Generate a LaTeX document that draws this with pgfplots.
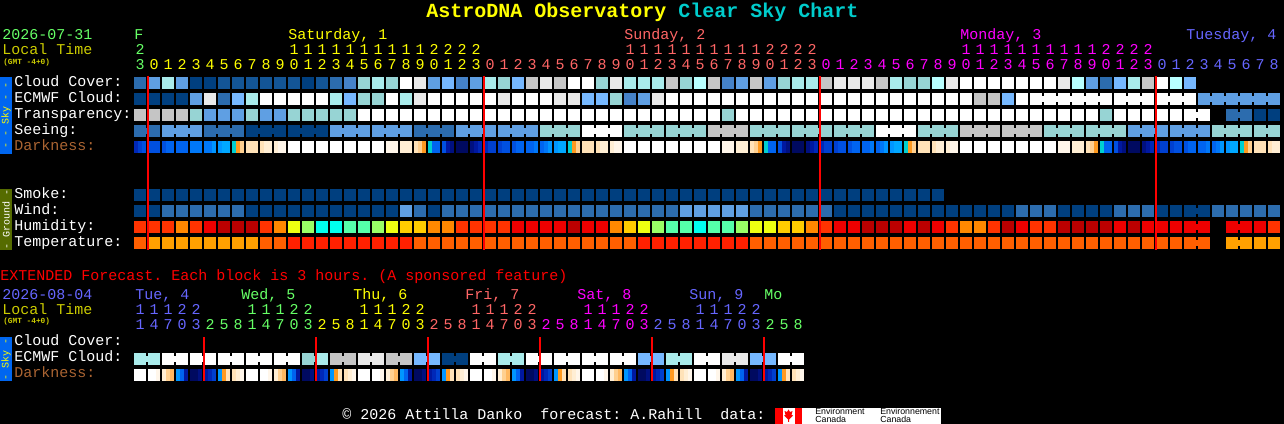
\documentclass[border=0pt]{standalone}
\usepackage{pgfplots}
\usepackage{pgfplotstable}
\pgfplotsset{compat=1.18}
\usepackage{fontspec}
\setmainfont{Liberation Mono}
\newfontfamily\logofont{Liberation Sans}
\pgfdeclareplotmark{cell}{\pgfpathrectangle{\pgfqpoint{-4.5pt}{-4.5pt}}{\pgfqpoint{9pt}{9pt}}\pgfusepathqfill}
\pgfdeclareplotmark{sub}{\pgfpathrectangle{\pgfqpoint{-1.55pt}{-4.5pt}}{\pgfqpoint{3.1pt}{9pt}}\pgfusepathqfill}
\pgfdeclareplotmark{bridge}{\pgfpathrectangle{\pgfqpoint{-0.85pt}{-1.9pt}}{\pgfqpoint{1.7pt}{3.8pt}}\pgfusepathqfill}
\definecolor{cgreen}{RGB}{102,255,102}
\definecolor{cyellow}{RGB}{255,255,0}
\definecolor{csalmon}{RGB}{255,102,102}
\definecolor{cmagenta}{RGB}{255,0,255}
\definecolor{cblue}{RGB}{102,102,255}
\definecolor{clocal}{RGB}{204,204,0}
\definecolor{cdark}{RGB}{170,100,50}
\definecolor{cteal}{RGB}{0,204,204}
\definecolor{barblue}{RGB}{0,102,240}
\definecolor{barolive}{RGB}{85,107,0}
\pgfplotstableread{
col cl ec tr se bs be d1 d2 d3 sm wi hu te
0 3 1 10 3 3 0 28 29 30 1 1 13 23
1 5 1 10 3 0 0 30 30 30 1 1 13 22
2 8 1 10 5 5 0 30 31 31 1 3 13 22
3 5 1 10 5 5 0 31 31 31 1 3 14 22
4 1 5 7 5 0 0 32 32 32 1 3 13 22
5 1 11 5 3 3 0 32 32 33 1 3 15 22
6 2 3 5 3 3 0 33 34 34 1 3 16 22
7 2 6 5 3 0 0 35 36 38 1 3 16 22
8 2 8 7 1 1 0 39 39 39 1 1 16 22
9 2 12 5 1 1 0 39 40 40 1 1 13 23
10 2 12 5 1 0 0 40 41 41 1 1 14 23
11 2 12 7 1 1 0 12 12 12 1 1 18 24
12 1 12 7 1 1 0 12 12 12 1 1 19 24
13 2 12 7 1 0 0 12 12 12 1 1 21 24
14 3 8 7 5 5 0 12 12 12 1 1 21 24
15 4 6 7 5 5 0 12 12 12 1 1 20 24
16 7 7 12 5 0 0 12 12 12 1 1 20 24
17 8 7 12 5 5 0 12 12 12 1 1 19 24
18 7 12 12 5 5 0 41 41 41 1 1 18 24
19 12 8 12 5 0 0 40 40 40 1 5 17 24
20 11 11 12 3 3 0 39 38 36 1 3 17 23
21 5 12 12 3 3 0 35 31 31 1 1 14 23
22 6 12 12 3 0 0 30 27 26 1 3 14 23
23 4 12 12 5 5 0 25 25 25 1 3 13 23
24 5 12 12 5 5 0 26 27 28 1 3 13 23
25 8 12 12 5 0 0 28 29 29 1 3 13 23
26 7 11 12 5 5 0 29 30 30 1 3 13 23
27 6 12 12 5 5 0 30 31 31 1 3 15 23
28 10 12 12 5 0 0 31 31 32 1 3 15 23
29 11 12 12 7 7 0 31 32 33 1 3 15 23
30 10 11 12 7 7 0 33 34 34 1 3 15 23
31 12 11 12 7 0 0 35 36 38 1 3 16 23
32 12 6 12 12 12 0 39 39 39 1 3 15 23
33 7 6 12 12 12 0 39 40 40 1 3 15 23
34 11 7 12 12 0 0 40 41 41 1 3 14 23
35 8 4 12 7 7 0 12 12 12 1 3 17 23
36 8 5 12 7 7 0 12 12 12 1 3 18 24
37 8 11 12 7 0 0 12 12 12 1 3 19 24
38 10 12 12 7 7 0 12 12 12 1 3 20 24
39 7 12 12 7 7 0 12 12 12 1 5 20 24
40 9 12 12 7 0 0 12 12 12 1 5 21 24
41 10 12 12 10 10 0 12 12 12 1 5 20 24
42 4 12 7 10 10 0 41 41 41 1 5 20 24
43 5 12 12 10 0 0 40 40 40 1 5 19 24
44 10 12 12 7 7 0 39 38 36 1 3 18 23
45 5 12 12 7 7 0 35 31 31 1 3 18 23
46 7 12 12 7 0 0 30 27 26 1 3 17 23
47 8 12 12 7 7 0 25 25 25 1 3 17 23
48 8 12 12 7 7 0 26 27 28 1 3 14 23
49 10 12 12 7 0 0 28 29 29 1 3 13 23
50 11 12 12 7 7 0 29 30 30 1 1 15 23
51 11 12 12 7 7 0 30 31 31 1 1 15 23
52 11 12 12 7 0 0 31 31 32 1 1 16 23
53 10 12 12 12 12 0 31 32 33 1 1 16 23
54 8 12 12 12 12 0 33 34 34 1 1 16 23
55 7 12 12 12 0 0 35 36 38 1 1 15 23
56 7 12 12 7 7 0 39 39 39 1 1 16 23
57 9 12 12 7 7 0 39 40 40 1 1 15 23
58 11 12 12 7 0 0 40 41 41 0 1 13 23
59 12 12 12 10 10 0 12 12 12 0 1 14 23
60 12 10 12 10 10 0 12 12 12 0 1 14 23
61 12 10 12 10 0 0 12 12 12 0 1 13 23
62 12 6 12 10 10 0 12 12 12 0 1 16 23
63 12 12 12 10 10 0 12 12 12 0 3 15 23
64 12 12 12 10 0 12 12 12 12 0 3 13 23
65 12 12 12 7 7 12 12 12 12 0 3 13 23
66 11 12 12 7 7 12 41 41 41 0 1 16 23
67 9 12 12 7 0 12 40 40 40 0 1 16 23
68 5 12 12 7 7 12 39 38 36 0 1 16 23
69 3 12 7 7 7 0 35 31 31 0 1 16 23
70 6 12 12 7 0 12 30 27 26 0 3 15 23
71 8 12 12 5 5 12 25 25 25 0 3 16 23
72 10 12 12 5 5 0 26 27 28 0 3 15 23
73 12 12 12 5 0 12 28 29 29 0 1 15 23
74 9 12 12 5 5 12 29 30 30 0 1 15 23
75 6 12 12 5 5 0 30 31 31 0 1 15 23
76 0 5 12 5 0 5 31 31 32 0 1 15 23
77 0 5 0 7 7 5 31 32 33 0 3 0 0
78 0 5 3 7 7 5 33 34 34 0 3 15 22
79 0 5 3 7 0 5 35 36 38 0 3 15 22
80 0 5 1 7 7 5 39 39 39 0 3 15 22
81 0 5 1 7 0 0 39 40 40 0 3 13 22
}\mainrows
\pgfplotstableread{
gap y lev
75 115 12
78 115 3
75 211 1
75 227 15
78 227 15
75 243 23
78 243 22
}\extrabridges
\pgfplotstableread{
col ec b d1 d2 d3
0 8 8 12 12 12
1 8 0 12 12 41
2 12 12 40 38 37
3 12 0 33 31 27
4 12 12 25 25 26
5 12 0 27 28 29
6 12 12 33 36 39
7 12 0 39 40 41
8 12 12 12 12 12
9 12 0 12 12 41
10 12 12 40 38 37
11 12 0 33 31 27
12 7 7 25 25 26
13 8 0 27 28 29
14 10 10 33 36 39
15 10 0 39 40 41
16 11 11 12 12 12
17 11 0 12 12 41
18 10 10 40 38 37
19 10 0 33 31 27
20 6 6 25 25 26
21 6 0 27 28 29
22 1 1 33 36 39
23 1 0 39 40 41
24 12 12 12 12 12
25 12 0 12 12 41
26 8 8 40 38 37
27 8 0 33 31 27
28 12 12 25 25 26
29 12 0 27 28 29
30 12 12 33 36 39
31 12 0 39 40 41
32 12 12 12 12 12
33 12 0 12 12 41
34 12 12 40 38 37
35 12 0 33 31 27
36 6 6 25 25 26
37 6 0 27 28 29
38 8 8 33 36 39
39 8 0 39 40 41
40 12 12 12 12 12
41 12 0 12 12 41
42 11 11 40 38 37
43 11 0 33 31 27
44 6 6 25 25 26
45 6 0 27 28 29
46 12 12 33 36 39
47 12 0 39 40 41
}\extrows
\newcommand\ptxt[5][11.25]{\node[anchor=base west,inner sep=0pt,text=#4,font=\fontsize{#1}{#1}\selectfont] at ({#2},{424-#3}) {#5};}
\newcommand\digits[4]{\foreach \d [count=\i from #1] in {#4} {\node[anchor=base,inner sep=0pt,text=#3,font=\fontsize{11.25}{12}\selectfont] at ({140+14*\i},{424-#2}) {\d};}}
\begin{document}
\frenchspacing
\begin{tikzpicture}[x=0.75pt,y=0.75pt]
\fill[black] (0,0) rectangle (1284,424);
\useasboundingbox (0,0) rectangle (1284,424);
\begin{axis}[
  at={(0,0)},anchor=south west,
  x=0.75pt,y=0.75pt,
  xmin=0,xmax=1284,ymin=0,ymax=424,
  y dir=reverse,
  hide axis,
  clip=false,
  point meta min=0,point meta max=41,
  colormap={skypal}{
    rgb255=(0,0,0) rgb255=(0,63,127) rgb255=(19,85,150) rgb255=(44,108,174)
    rgb255=(69,130,200) rgb255=(95,159,227) rgb255=(118,184,255) rgb255=(151,212,212)
    rgb255=(169,235,235) rgb255=(184,255,255) rgb255=(197,197,197) rgb255=(233,233,233)
    rgb255=(255,255,255) rgb255=(255,51,0) rgb255=(255,136,0) rgb255=(238,0,0)
    rgb255=(187,0,0) rgb255=(255,204,0) rgb255=(238,255,17) rgb255=(153,255,102)
    rgb255=(85,255,170) rgb255=(0,255,238) rgb255=(255,160,0) rgb255=(255,95,0)
    rgb255=(255,32,0) rgb255=(0,10,96) rgb255=(0,16,128) rgb255=(0,24,160)
    rgb255=(0,40,184) rgb255=(0,64,208) rgb255=(0,80,224) rgb255=(0,100,240)
    rgb255=(0,120,248) rgb255=(0,150,255) rgb255=(0,168,255) rgb255=(0,208,208)
    rgb255=(255,154,32) rgb255=(255,184,96) rgb255=(255,208,144) rgb255=(255,226,184)
    rgb255=(255,238,212) rgb255=(255,246,234)
  },
  cells/.style={scatter,only marks,mark=#1,scatter/use mapped color={fill=mapped color,draw=none}},
]
% main grid
\addplot[cells=cell,point meta=\thisrow{cl}] table[x expr=140+14*\thisrow{col},y expr=83] {\mainrows};
\addplot[cells=cell,point meta=\thisrow{ec}] table[x expr=140+14*\thisrow{col},y expr=99] {\mainrows};
\addplot[cells=cell,point meta=\thisrow{tr}] table[x expr=140+14*\thisrow{col},y expr=115] {\mainrows};
\addplot[cells=cell,point meta=\thisrow{se}] table[x expr=140+14*\thisrow{col},y expr=131] {\mainrows};
\addplot[cells=sub,point meta=\thisrow{d1}] table[x expr=136+14*\thisrow{col},y expr=147] {\mainrows};
\addplot[cells=sub,point meta=\thisrow{d2}] table[x expr=140+14*\thisrow{col},y expr=147] {\mainrows};
\addplot[cells=sub,point meta=\thisrow{d3}] table[x expr=144+14*\thisrow{col},y expr=147] {\mainrows};
\addplot[cells=cell,point meta=\thisrow{sm}] table[x expr=140+14*\thisrow{col},y expr=195] {\mainrows};
\addplot[cells=cell,point meta=\thisrow{wi}] table[x expr=140+14*\thisrow{col},y expr=211] {\mainrows};
\addplot[cells=cell,point meta=\thisrow{hu}] table[x expr=140+14*\thisrow{col},y expr=227] {\mainrows};
\addplot[cells=cell,point meta=\thisrow{te}] table[x expr=140+14*\thisrow{col},y expr=243] {\mainrows};
% joins between blocks that share one forecast
\addplot[cells=bridge,point meta=\thisrow{bs}] table[x expr=147+14*\thisrow{col},y expr=131] {\mainrows};
\addplot[cells=bridge,point meta=\thisrow{be}] table[x expr=147+14*\thisrow{col},y expr=99] {\mainrows};
\addplot[cells=bridge,point meta=\thisrow{lev}] table[x expr=147+14*\thisrow{gap},y=y] {\extrabridges};
% extended grid
\addplot[cells=cell,point meta=\thisrow{ec}] table[x expr=140+14*\thisrow{col},y expr=359] {\extrows};
\addplot[cells=bridge,point meta=\thisrow{b}] table[x expr=147+14*\thisrow{col},y expr=359] {\extrows};
\addplot[cells=sub,point meta=\thisrow{d1}] table[x expr=136+14*\thisrow{col},y expr=375] {\extrows};
\addplot[cells=sub,point meta=\thisrow{d2}] table[x expr=140+14*\thisrow{col},y expr=375] {\extrows};
\addplot[cells=sub,point meta=\thisrow{d3}] table[x expr=144+14*\thisrow{col},y expr=375] {\extrows};
\end{axis}
% red midnight lines, in an axis of their own so that they lie on top of the marks
\begin{axis}[
  at={(0,0)},anchor=south west,
  x=0.75pt,y=0.75pt,
  xmin=0,xmax=1284,ymin=0,ymax=424,
  y dir=reverse,
  hide axis,
  clip=false,
]
\addplot[red,line width=1.5pt] coordinates {(148,76) (148,250)};
\addplot[red,line width=1.5pt] coordinates {(484,76) (484,250)};
\addplot[red,line width=1.5pt] coordinates {(820,76) (820,250)};
\addplot[red,line width=1.5pt] coordinates {(1156,76) (1156,250)};
\addplot[red,line width=1.5pt] coordinates {(204,337) (204,381)};
\addplot[red,line width=1.5pt] coordinates {(316,337) (316,381)};
\addplot[red,line width=1.5pt] coordinates {(428,337) (428,381)};
\addplot[red,line width=1.5pt] coordinates {(540,337) (540,381)};
\addplot[red,line width=1.5pt] coordinates {(652,337) (652,381)};
\addplot[red,line width=1.5pt] coordinates {(764,337) (764,381)};
\end{axis}
% title
\node[anchor=base west,inner sep=0pt,font=\fontsize{15}{15}\selectfont\bfseries] at (426,424-18) {\textcolor{cyellow}{AstroDNA Observatory} \textcolor{cteal}{Clear Sky Chart}};
% main header
\ptxt{2}{40}{cgreen}{2026-07-31}
\ptxt{2}{55}{clocal}{Local Time}
\node[anchor=base west,inner sep=0pt,text=clocal,font=\fontsize{5.85}{6}\selectfont\bfseries] at (3,424-64.5) {(GMT -4+0)};
\ptxt{134}{40}{cgreen}{F}
\ptxt{288}{40}{cyellow}{Saturday, 1}
\ptxt{624}{40}{csalmon}{Sunday, 2}
\ptxt{960}{40}{cmagenta}{Monday, 3}
\ptxt{1186}{40}{cblue}{Tuesday, 4}
\digits{0}{55}{cgreen}{2}
\digits{11}{55}{cyellow}{1,1,1,1,1,1,1,1,1,1,2,2,2,2}
\digits{35}{55}{csalmon}{1,1,1,1,1,1,1,1,1,1,2,2,2,2}
\digits{59}{55}{cmagenta}{1,1,1,1,1,1,1,1,1,1,2,2,2,2}
\digits{0}{70}{cgreen}{3}
\digits{1}{70}{cyellow}{0,1,2,3,4,5,6,7,8,9,0,1,2,3,4,5,6,7,8,9,0,1,2,3}
\digits{25}{70}{csalmon}{0,1,2,3,4,5,6,7,8,9,0,1,2,3,4,5,6,7,8,9,0,1,2,3}
\digits{49}{70}{cmagenta}{0,1,2,3,4,5,6,7,8,9,0,1,2,3,4,5,6,7,8,9,0,1,2,3}
\digits{73}{70}{cblue}{0,1,2,3,4,5,6,7,8}
% row labels
\ptxt{14}{86.5}{white}{Cloud Cover:}
\ptxt{14}{102.5}{white}{ECMWF Cloud:}
\ptxt{14}{118.5}{white}{Transparency:}
\ptxt{14}{134.5}{white}{Seeing:}
\ptxt{14}{150.5}{cdark}{Darkness:}
\ptxt{14}{198.5}{white}{Smoke:}
\ptxt{14}{214.5}{white}{Wind:}
\ptxt{14}{230.5}{white}{Humidity:}
\ptxt{14}{246.5}{white}{Temperature:}
% side bars
\fill[barblue] (0,424-77) rectangle (12,424-154);
\fill[barolive] (0,424-189) rectangle (12,424-250);
\fill[barblue] (0,424-337) rectangle (12,424-381);
\node[rotate=90,inner sep=0pt,text=cyellow,font=\fontsize{7.5}{8}\selectfont] at (6,424-115.5) {- - Sky - -};
\node[rotate=90,inner sep=0pt,text=white,font=\fontsize{7.5}{8}\selectfont] at (6,424-219.5) {- Ground -};
\node[rotate=90,inner sep=0pt,text=cyellow,font=\fontsize{7.5}{8}\selectfont] at (6,424-359) {- Sky -};
% extended
\ptxt{0}{281}{red}{EXTENDED Forecast. Each block is 3 hours. (A sponsored feature)}
\ptxt{2}{300}{cblue}{2026-08-04}
\ptxt{2}{315}{clocal}{Local Time}
\node[anchor=base west,inner sep=0pt,text=clocal,font=\fontsize{5.85}{6}\selectfont\bfseries] at (3,424-324) {(GMT -4+0)};
\ptxt{135}{300}{cblue}{Tue, 4}
\ptxt{241}{300}{cgreen}{Wed, 5}
\ptxt{353}{300}{cyellow}{Thu, 6}
\ptxt{465}{300}{csalmon}{Fri, 7}
\ptxt{577}{300}{cmagenta}{Sat, 8}
\ptxt{689}{300}{cblue}{Sun, 9}
\ptxt{764}{300}{cgreen}{Mo}
\digits{0}{315}{cblue}{1,1,1,2,2}
\digits{8}{315}{cgreen}{1,1,1,2,2}
\digits{16}{315}{cyellow}{1,1,1,2,2}
\digits{24}{315}{csalmon}{1,1,1,2,2}
\digits{32}{315}{cmagenta}{1,1,1,2,2}
\digits{40}{315}{cblue}{1,1,1,2,2}
\digits{0}{329.5}{cblue}{1,4,7,0,3}
\digits{5}{329.5}{cgreen}{2,5,8,1,4,7,0,3}
\digits{13}{329.5}{cyellow}{2,5,8,1,4,7,0,3}
\digits{21}{329.5}{csalmon}{2,5,8,1,4,7,0,3}
\digits{29}{329.5}{cmagenta}{2,5,8,1,4,7,0,3}
\digits{37}{329.5}{cblue}{2,5,8,1,4,7,0,3}
\digits{45}{329.5}{cgreen}{2,5,8}
\ptxt{14}{346}{white}{Cloud Cover:}
\ptxt{14}{362}{white}{ECMWF Cloud:}
\ptxt{14}{378}{cdark}{Darkness:}
% footer
\ptxt{342}{420}{white}{© 2026 Attilla Danko\ \ forecast: A.Rahill\ \ data:}
\fill[white] (775,424-408) rectangle (941,0);
\fill[red] (775,424-408) rectangle (782.5,0);
\fill[red] (794.5,424-408) rectangle (802,0);
\fill[red] (788.5,424-409.5) -- (790,424-412) -- (792.5,424-411) -- (791.5,424-415) -- (793,424-415.5) -- (789,424-419.5) -- (789,424-422) -- (788,424-422) -- (788,424-419.5) -- (784,424-415.5) -- (785.5,424-415) -- (784.5,424-411) -- (787,424-412) -- cycle;
\node[anchor=base west,inner sep=0pt,text=black,font=\logofont\fontsize{6.6}{7}\selectfont] at (815,424-415) {Environment};
\node[anchor=base west,inner sep=0pt,text=black,font=\logofont\fontsize{6.6}{7}\selectfont] at (815,424-423) {Canada};
\node[anchor=base west,inner sep=0pt,text=black,font=\logofont\fontsize{6.6}{7}\selectfont] at (880,424-415) {Environnement};
\node[anchor=base west,inner sep=0pt,text=black,font=\logofont\fontsize{6.6}{7}\selectfont] at (880,424-423) {Canada};
\end{tikzpicture}
\end{document}
